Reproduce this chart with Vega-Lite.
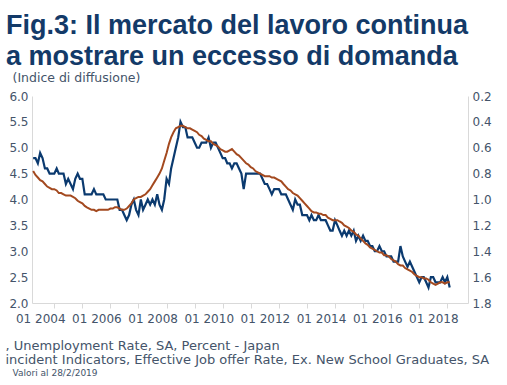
{
  "$schema": "https://vega.github.io/schema/vega-lite/v6.json",
  "width": 436,
  "height": 207,
  "autosize": {"type": "none"},
  "padding": {"left": 32, "top": 96, "right": 39, "bottom": 82},
  "background": "white",
  "config": {"view": {"stroke": null}, "font": "DejaVu Sans"},
  "title": {
    "text": ["Fig.3: Il mercato del lavoro continua", "a mostrare un eccesso di domanda"],
    "anchor": "start",
    "frame": "group",
    "fontSize": 27,
    "fontWeight": "bold",
    "color": "#133a68",
    "font": "Liberation Sans",
    "lineHeight": 31.5,
    "dx": -26,
    "offset": 0
  },
  "data": {"values": [
    {"d":"2004-04-01","u":4.8,"j":0.78},{"d":"2004-05-01","u":4.8,"j":0.81},{"d":"2004-06-01","u":4.7,"j":0.83},{"d":"2004-07-01","u":4.9,"j":0.85},{"d":"2004-08-01","u":4.8,"j":0.86},{"d":"2004-09-01","u":4.6,"j":0.88},{"d":"2004-10-01","u":4.6,"j":0.90},{"d":"2004-11-01","u":4.5,"j":0.91},{"d":"2004-12-01","u":4.5,"j":0.92},
    {"d":"2005-01-01","u":4.5,"j":0.92},{"d":"2005-02-01","u":4.6,"j":0.93},{"d":"2005-03-01","u":4.5,"j":0.95},{"d":"2005-04-01","u":4.5,"j":0.95},{"d":"2005-05-01","u":4.5,"j":0.96},{"d":"2005-06-01","u":4.3,"j":0.97},{"d":"2005-07-01","u":4.4,"j":0.97},{"d":"2005-08-01","u":4.3,"j":0.97},{"d":"2005-09-01","u":4.2,"j":0.98},{"d":"2005-10-01","u":4.4,"j":0.99},{"d":"2005-11-01","u":4.5,"j":1.01},{"d":"2005-12-01","u":4.4,"j":1.02},
    {"d":"2006-01-01","u":4.4,"j":1.03},{"d":"2006-02-01","u":4.1,"j":1.05},{"d":"2006-03-01","u":4.1,"j":1.06},{"d":"2006-04-01","u":4.1,"j":1.07},{"d":"2006-05-01","u":4.1,"j":1.08},{"d":"2006-06-01","u":4.2,"j":1.08},{"d":"2006-07-01","u":4.1,"j":1.09},{"d":"2006-08-01","u":4.1,"j":1.08},{"d":"2006-09-01","u":4.1,"j":1.08},{"d":"2006-10-01","u":4.1,"j":1.08},{"d":"2006-11-01","u":4.0,"j":1.08},{"d":"2006-12-01","u":4.0,"j":1.08},
    {"d":"2007-01-01","u":4.0,"j":1.07},{"d":"2007-02-01","u":4.0,"j":1.07},{"d":"2007-03-01","u":4.0,"j":1.06},{"d":"2007-04-01","u":4.0,"j":1.06},{"d":"2007-05-01","u":3.8,"j":1.07},{"d":"2007-06-01","u":3.8,"j":1.08},{"d":"2007-07-01","u":3.7,"j":1.08},{"d":"2007-08-01","u":3.6,"j":1.07},{"d":"2007-09-01","u":3.7,"j":1.05},{"d":"2007-10-01","u":3.9,"j":1.03},{"d":"2007-11-01","u":4.0,"j":1.00},{"d":"2007-12-01","u":3.8,"j":0.99},
    {"d":"2008-01-01","u":3.7,"j":0.98},{"d":"2008-02-01","u":4.0,"j":0.98},{"d":"2008-03-01","u":3.8,"j":0.97},{"d":"2008-04-01","u":3.9,"j":0.96},{"d":"2008-05-01","u":4.0,"j":0.94},{"d":"2008-06-01","u":3.9,"j":0.92},{"d":"2008-07-01","u":4.0,"j":0.89},{"d":"2008-08-01","u":3.9,"j":0.86},{"d":"2008-09-01","u":4.1,"j":0.83},{"d":"2008-10-01","u":3.9,"j":0.80},{"d":"2008-11-01","u":3.8,"j":0.76},{"d":"2008-12-01","u":4.0,"j":0.70},
    {"d":"2009-01-01","u":4.4,"j":0.64},{"d":"2009-02-01","u":4.3,"j":0.57},{"d":"2009-03-01","u":4.6,"j":0.52},{"d":"2009-04-01","u":4.8,"j":0.48},{"d":"2009-05-01","u":5.0,"j":0.45},{"d":"2009-06-01","u":5.2,"j":0.44},{"d":"2009-07-01","u":5.5,"j":0.43},{"d":"2009-08-01","u":5.4,"j":0.43},{"d":"2009-09-01","u":5.4,"j":0.44},{"d":"2009-10-01","u":5.2,"j":0.45},{"d":"2009-11-01","u":5.2,"j":0.45},{"d":"2009-12-01","u":5.2,"j":0.46},
    {"d":"2010-01-01","u":5.1,"j":0.47},{"d":"2010-02-01","u":5.0,"j":0.48},{"d":"2010-03-01","u":5.0,"j":0.50},{"d":"2010-04-01","u":5.1,"j":0.51},{"d":"2010-05-01","u":5.1,"j":0.53},{"d":"2010-06-01","u":5.1,"j":0.54},{"d":"2010-07-01","u":5.2,"j":0.55},{"d":"2010-08-01","u":5.0,"j":0.55},{"d":"2010-09-01","u":5.1,"j":0.57},{"d":"2010-10-01","u":5.1,"j":0.58},{"d":"2010-11-01","u":5.0,"j":0.59},{"d":"2010-12-01","u":4.9,"j":0.61},
    {"d":"2011-01-01","u":4.8,"j":0.62},{"d":"2011-02-01","u":4.8,"j":0.63},{"d":"2011-03-01","u":4.7,"j":0.63},{"d":"2011-04-01","u":4.7,"j":0.62},{"d":"2011-05-01","u":4.6,"j":0.61},{"d":"2011-06-01","u":4.7,"j":0.63},{"d":"2011-07-01","u":4.7,"j":0.65},{"d":"2011-08-01","u":4.6,"j":0.66},{"d":"2011-09-01","u":4.5,"j":0.68},{"d":"2011-10-01","u":4.2,"j":0.70},{"d":"2011-11-01","u":4.5,"j":0.72},{"d":"2011-12-01","u":4.5,"j":0.73},
    {"d":"2012-01-01","u":4.5,"j":0.75},{"d":"2012-02-01","u":4.5,"j":0.76},{"d":"2012-03-01","u":4.5,"j":0.78},{"d":"2012-04-01","u":4.5,"j":0.79},{"d":"2012-05-01","u":4.5,"j":0.80},{"d":"2012-06-01","u":4.4,"j":0.81},{"d":"2012-07-01","u":4.3,"j":0.82},{"d":"2012-08-01","u":4.3,"j":0.82},{"d":"2012-09-01","u":4.2,"j":0.82},{"d":"2012-10-01","u":4.1,"j":0.83},{"d":"2012-11-01","u":4.2,"j":0.83},{"d":"2012-12-01","u":4.2,"j":0.84},
    {"d":"2013-01-01","u":4.2,"j":0.85},{"d":"2013-02-01","u":4.1,"j":0.86},{"d":"2013-03-01","u":4.1,"j":0.88},{"d":"2013-04-01","u":4.1,"j":0.90},{"d":"2013-05-01","u":4.0,"j":0.92},{"d":"2013-06-01","u":3.9,"j":0.93},{"d":"2013-07-01","u":3.8,"j":0.95},{"d":"2013-08-01","u":4.0,"j":0.96},{"d":"2013-09-01","u":3.9,"j":0.97},{"d":"2013-10-01","u":3.9,"j":0.99},{"d":"2013-11-01","u":3.7,"j":1.01},{"d":"2013-12-01","u":3.7,"j":1.03},
    {"d":"2014-01-01","u":3.7,"j":1.05},{"d":"2014-02-01","u":3.6,"j":1.07},{"d":"2014-03-01","u":3.7,"j":1.09},{"d":"2014-04-01","u":3.6,"j":1.10},{"d":"2014-05-01","u":3.6,"j":1.10},{"d":"2014-06-01","u":3.7,"j":1.11},{"d":"2014-07-01","u":3.6,"j":1.11},{"d":"2014-08-01","u":3.6,"j":1.12},{"d":"2014-09-01","u":3.6,"j":1.12},{"d":"2014-10-01","u":3.5,"j":1.14},{"d":"2014-11-01","u":3.4,"j":1.15},{"d":"2014-12-01","u":3.4,"j":1.16},
    {"d":"2015-01-01","u":3.6,"j":1.16},{"d":"2015-02-01","u":3.5,"j":1.16},{"d":"2015-03-01","u":3.4,"j":1.17},{"d":"2015-04-01","u":3.3,"j":1.18},{"d":"2015-05-01","u":3.4,"j":1.20},{"d":"2015-06-01","u":3.3,"j":1.21},{"d":"2015-07-01","u":3.4,"j":1.22},{"d":"2015-08-01","u":3.3,"j":1.24},{"d":"2015-09-01","u":3.4,"j":1.25},{"d":"2015-10-01","u":3.2,"j":1.27},{"d":"2015-11-01","u":3.3,"j":1.28},{"d":"2015-12-01","u":3.2,"j":1.30},
    {"d":"2016-01-01","u":3.3,"j":1.32},{"d":"2016-02-01","u":3.2,"j":1.34},{"d":"2016-03-01","u":3.2,"j":1.35},{"d":"2016-04-01","u":3.1,"j":1.37},{"d":"2016-05-01","u":3.1,"j":1.38},{"d":"2016-06-01","u":3.0,"j":1.39},{"d":"2016-07-01","u":3.0,"j":1.40},{"d":"2016-08-01","u":3.1,"j":1.41},{"d":"2016-09-01","u":3.0,"j":1.41},{"d":"2016-10-01","u":3.0,"j":1.43},{"d":"2016-11-01","u":2.9,"j":1.43},{"d":"2016-12-01","u":2.9,"j":1.44},
    {"d":"2017-01-01","u":2.9,"j":1.46},{"d":"2017-02-01","u":2.8,"j":1.47},{"d":"2017-03-01","u":2.8,"j":1.48},{"d":"2017-04-01","u":2.8,"j":1.50},{"d":"2017-05-01","u":3.1,"j":1.51},{"d":"2017-06-01","u":2.9,"j":1.51},{"d":"2017-07-01","u":2.8,"j":1.53},{"d":"2017-08-01","u":2.7,"j":1.54},{"d":"2017-09-01","u":2.8,"j":1.55},{"d":"2017-10-01","u":2.7,"j":1.56},{"d":"2017-11-01","u":2.6,"j":1.58},{"d":"2017-12-01","u":2.5,"j":1.59},
    {"d":"2018-01-01","u":2.4,"j":1.60},{"d":"2018-02-01","u":2.5,"j":1.60},{"d":"2018-03-01","u":2.5,"j":1.61},{"d":"2018-04-01","u":2.4,"j":1.61},{"d":"2018-05-01","u":2.3,"j":1.62},{"d":"2018-06-01","u":2.5,"j":1.64},{"d":"2018-07-01","u":2.5,"j":1.65},{"d":"2018-08-01","u":2.4,"j":1.66},{"d":"2018-09-01","u":2.4,"j":1.65},{"d":"2018-10-01","u":2.4,"j":1.64},{"d":"2018-11-01","u":2.5,"j":1.64},{"d":"2018-12-01","u":2.4,"j":1.65},
    {"d":"2019-01-01","u":2.5,"j":1.64},{"d":"2019-02-01","u":2.3,"j":1.64}
  ]},
  "encoding": {
    "x": {
      "field": "d",
      "type": "temporal",
      "scale": {"domain": [{"year": 2004, "month": 3, "date": 17}, {"year": 2019, "month": 9, "date": 27}]},
      "axis": {
        "values": [
          {"year": 2005, "month": 1, "date": 1}, {"year": 2006, "month": 1, "date": 1}, {"year": 2007, "month": 1, "date": 1},
          {"year": 2008, "month": 1, "date": 1}, {"year": 2009, "month": 1, "date": 1}, {"year": 2010, "month": 1, "date": 1},
          {"year": 2011, "month": 1, "date": 1}, {"year": 2012, "month": 1, "date": 1}, {"year": 2013, "month": 1, "date": 1},
          {"year": 2014, "month": 1, "date": 1}, {"year": 2015, "month": 1, "date": 1}, {"year": 2016, "month": 1, "date": 1},
          {"year": 2017, "month": 1, "date": 1}, {"year": 2018, "month": 1, "date": 1}, {"year": 2019, "month": 1, "date": 1}
        ],
        "labelExpr": "year(datum.value) % 2 == 1 ? '01 ' + (year(datum.value) - 1) : ''",
        "labelOffset": -14,
        "labelFlush": false,
        "labelOverlap": false,
        "labelAngle": 0,
        "tickSize": 5,
        "tickColor": "#d9d9d9",
        "domainColor": "#d9d9d9",
        "grid": false,
        "labelColor": "#44546a",
        "labelFont": "DejaVu Sans",
        "labelFontSize": 12,
        "labelPadding": 5,
        "title": [", Unemployment Rate, SA, Percent - Japan", "incident Indicators, Effective Job offer Rate, Ex. New School Graduates, SA"],
        "titleX": -27,
        "titleY": 46,
        "titleAlign": "left",
        "titleBaseline": "alphabetic",
        "titleFont": "DejaVu Sans",
        "titleFontSize": 13,
        "titleFontWeight": "normal",
        "titleColor": "#44546a",
        "titleLineHeight": 14.5
      }
    }
  },
  "layer": [
    {
      "mark": {"type": "line", "color": "#0b3a6f", "strokeWidth": 2.2},
      "encoding": {
        "y": {
          "field": "u",
          "type": "quantitative",
          "scale": {"domain": [2, 6], "zero": false, "nice": false},
          "axis": {
            "values": [2, 2.5, 3, 3.5, 4, 4.5, 5, 5.5, 6],
            "format": ".1f",
            "ticks": false,
            "grid": false,
            "domainColor": "#d9d9d9",
            "labelColor": "#44546a",
            "labelFont": "DejaVu Sans",
            "labelFontSize": 12,
            "labelPadding": 4,
            "title": "(Indice di diffusione)",
            "titleAngle": 0,
            "titleX": -20,
            "titleY": -19,
            "titleAlign": "left",
            "titleBaseline": "middle",
            "titleFont": "DejaVu Sans",
            "titleFontSize": 12.5,
            "titleFontWeight": "normal",
            "titleColor": "#44546a"
          }
        }
      }
    },
    {
      "mark": {"type": "line", "color": "#a3491f", "strokeWidth": 2},
      "encoding": {
        "y": {
          "field": "j",
          "type": "quantitative",
          "scale": {"domain": [0.2, 1.8], "reverse": true, "zero": false, "nice": false},
          "axis": {
            "orient": "right",
            "values": [0.2, 0.4, 0.6, 0.8, 1.0, 1.2, 1.4, 1.6, 1.8],
            "format": ".1f",
            "ticks": false,
            "grid": false,
            "domainColor": "#d9d9d9",
            "labelColor": "#44546a",
            "labelFont": "DejaVu Sans",
            "labelFontSize": 12,
            "labelPadding": 4,
            "title": "Valori al 28/2/2019",
            "titleAngle": 0,
            "titleX": -456,
            "titleY": 276,
            "titleAlign": "left",
            "titleBaseline": "middle",
            "titleFont": "DejaVu Sans",
            "titleFontSize": 9,
            "titleFontWeight": "normal",
            "titleColor": "#44546a"
          }
        }
      }
    }
  ],
  "resolve": {"scale": {"y": "independent"}}
}
